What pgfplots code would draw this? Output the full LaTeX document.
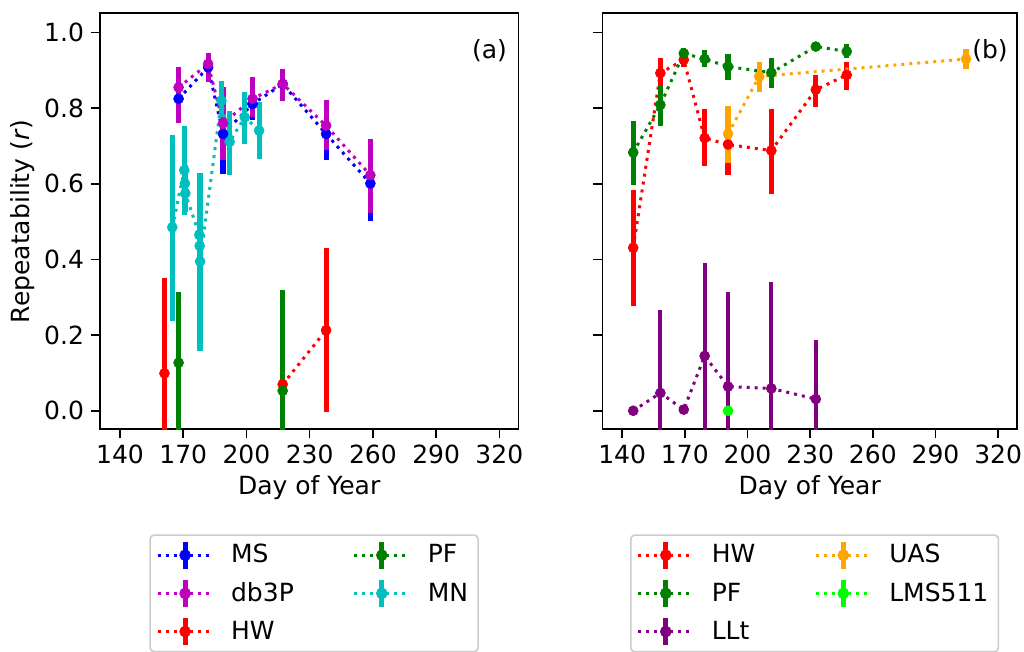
\documentclass[border=0pt]{standalone}
\usepackage{fontspec}
\setmainfont{DejaVu Sans}
\usepackage{pgfplots}
\pgfplotsset{compat=1.18}

\definecolor{mplblue}{RGB}{0,0,255}
\definecolor{mplmag}{RGB}{191,0,191}
\definecolor{mplred}{RGB}{255,0,0}
\definecolor{mplgreen}{RGB}{0,128,0}
\definecolor{mplcyan}{RGB}{0,191,191}
\definecolor{mplpurple}{RGB}{128,0,128}
\definecolor{mplorange}{RGB}{255,165,0}
\definecolor{mpllime}{RGB}{0,255,0}

\pgfplotsset{
  ser/.style={color=#1, line width=1.5pt, dash pattern=on 1.5pt off 2.5pt, line cap=butt,
    mark=*, mark size=2.5pt, mark options={solid, line width=0.3pt, fill=#1, draw=#1},
    forget plot,
    /pgfplots/error bars/y dir=both, /pgfplots/error bars/y explicit,
    /pgfplots/error bars/error mark=none,
    /pgfplots/error bars/error bar style={solid, line width=2.6pt, color=#1, line cap=butt}},
  errleg/.style={legend image code/.code={
      \draw[dash pattern=on 1.5pt off 2.5pt, line width=1.5pt, line cap=butt] (0pt,0pt) -- (27.5pt,0pt);
      \draw[solid, line width=2.6pt] (13.75pt,-6.75pt) -- (13.75pt,6.75pt);
      \fill (13.75pt,0pt) circle (2.5pt);}},
  myaxis/.style={scale only axis, height=208pt,
    xmin=130.5, xmax=329, ymin=-0.049, ymax=1.051,
    xtick={140,170,200,230,260,290,320}, ytick={0,0.2,0.4,0.6,0.8,1.0},
    tick align=outside, xtick pos=bottom, ytick pos=left,
    major tick length=4.5pt,
    axis line style={line width=0.8pt}, tick style={line width=0.8pt, black},
    every tick label/.append style={/pgf/number format/assume math mode=true},
    yticklabel style={/pgf/number format/fixed, /pgf/number format/precision=1, /pgf/number format/fixed zerofill},
    xlabel={Day of Year},
    xlabel style={at={(axis description cs:0.5,-0.141)}, anchor=center},
    legend columns=2, legend cell align=left,
    legend style={draw=black!20, rounded corners=2pt, line width=0.8pt, fill=white,
      anchor=north west, row sep=3pt,
      /tikz/every odd column/.append style={column sep=6.5pt},
      /tikz/every even column/.append style={column sep=27.5pt}},
  }
}

\begin{document}
\begin{tikzpicture}[font=\fontsize{12.5}{15}\selectfont]
\useasboundingbox (0,0) rectangle (512pt,326pt);
\clip (0,0) rectangle (512pt,326pt);

% ---------------- panel (a) ----------------
\begin{axis}[myaxis, width=209.15pt, at={(50pt,111.35pt)}, anchor=south west,
  ylabel={Repeatability (\textit{r})},
  ylabel style={at={(axis description cs:-0.186,0.5)}, anchor=center},
  legend style={at={(axis description cs:0.1179,-0.2524)}}]

\addplot[ser=mplblue] table[x=x,y=y,y error plus=ep,y error minus=em] {
x y ep em
167.8 0.825 0.07 0.062
181.8 0.908 0.03 0.04
188.9 0.732 0.09 0.105
202.9 0.811 0.06 0.043
217.2 0.864 0.04 0.04
237.8 0.732 0.07 0.07
258.8 0.601 0.11 0.10
};
\addplot[ser=mplmag] table[x=x,y=y,y error plus=ep,y error minus=em] {
x y ep em
167.8 0.855 0.053 0.095
181.8 0.917 0.029 0.049
188.9 0.760 0.095 0.098
202.9 0.825 0.057 0.049
217.2 0.864 0.040 0.044
237.8 0.754 0.069 0.065
258.8 0.623 0.096 0.101
};
\addplot[ser=mplred] table[x=x,y=y,y error plus=ep,y error minus=em] {
x y ep em
161.1 0.099 0.252 0.30
};
\addplot[ser=mplred] table[x=x,y=y,y error plus=ep,y error minus=em] {
x y ep em
217.2 0.070 0.20 0.20
237.8 0.213 0.217 0.217
};
\addplot[ser=mplgreen] table[x=x,y=y,y error plus=ep,y error minus=em] {
x y ep em
167.8 0.127 0.186 0.30
};
\addplot[ser=mplgreen] table[x=x,y=y,y error plus=ep,y error minus=em] {
x y ep em
217.2 0.053 0.265 0.30
};
\addplot[ser=mplcyan] table[x=x,y=y,y error plus=ep,y error minus=em] {
x y ep em
164.8 0.485 0.243 0.248
170.5 0.636 0.118 0.118
170.8 0.601 0.05 0.05
171.0 0.575 0.05 0.05
177.6 0.465 0.05 0.05
177.8 0.436 0.05 0.05
178.0 0.395 0.234 0.237
188.1 0.820 0.053 0.044
192.0 0.711 0.081 0.088
199.2 0.776 0.066 0.070
206.0 0.741 0.075 0.074
};

\node at (rel axis cs:0.931,0.909) {(a)};

\addlegendimage{mplblue, errleg}\addlegendentry{MS}
\addlegendimage{mplgreen, errleg}\addlegendentry{PF}
\addlegendimage{mplmag, errleg}\addlegendentry{db3P}
\addlegendimage{mplcyan, errleg}\addlegendentry{MN}
\addlegendimage{mplred, errleg}\addlegendentry{HW}
\end{axis}

% ---------------- panel (b) ----------------
\begin{axis}[myaxis, width=207.35pt, at={(301.15pt,111.35pt)}, anchor=south west,
  yticklabels={},
  legend style={at={(axis description cs:0.0668,-0.2524)}}]

\addplot[ser=mplred] table[x=x,y=y,y error plus=ep,y error minus=em] {
x y ep em
145.3 0.431 0.154 0.154
158.3 0.893 0.040 0.070
169.5 0.928 0.020 0.020
179.5 0.721 0.077 0.075
190.7 0.704 0.070 0.080
211.4 0.688 0.110 0.114
232.7 0.849 0.039 0.046
247.5 0.888 0.035 0.039
};
\addplot[ser=mplgreen] table[x=x,y=y,y error plus=ep,y error minus=em] {
x y ep em
145.3 0.683 0.084 0.087
158.3 0.809 0.053 0.055
169.5 0.945 0.015 0.015
179.5 0.930 0.023 0.022
190.7 0.910 0.033 0.035
211.4 0.894 0.040 0.041
232.7 0.963 0.005 0.005
247.5 0.950 0.020 0.018
};
\addplot[ser=mplpurple, /pgfplots/error bars/error bar style={line width=2pt}] table[x=x,y=y,y error plus=ep,y error minus=em] {
x y ep em
145.3 0.000 0.000 0.000
158.3 0.047 0.219 0.250
169.5 0.003 0.000 0.000
179.5 0.145 0.246 0.250
190.7 0.064 0.250 0.250
211.4 0.059 0.282 0.282
232.7 0.031 0.156 0.156
};
\addplot[ser=mplorange] table[x=x,y=y,y error plus=ep,y error minus=em] {
x y ep em
190.7 0.732 0.074 0.077
205.6 0.884 0.039 0.042
304.6 0.930 0.026 0.027
};
\addplot[ser=mpllime] table[x=x,y=y,y error plus=ep,y error minus=em] {
x y ep em
190.7 0.000 0.000 0.000
};

\node at (rel axis cs:0.935,0.909) {(b)};

\addlegendimage{mplred, errleg}\addlegendentry{HW}
\addlegendimage{mplorange, errleg}\addlegendentry{UAS}
\addlegendimage{mplgreen, errleg}\addlegendentry{PF}
\addlegendimage{mpllime, errleg}\addlegendentry{LMS511}
\addlegendimage{mplpurple, errleg}\addlegendentry{LLt}
\end{axis}
\end{tikzpicture}
\end{document}
